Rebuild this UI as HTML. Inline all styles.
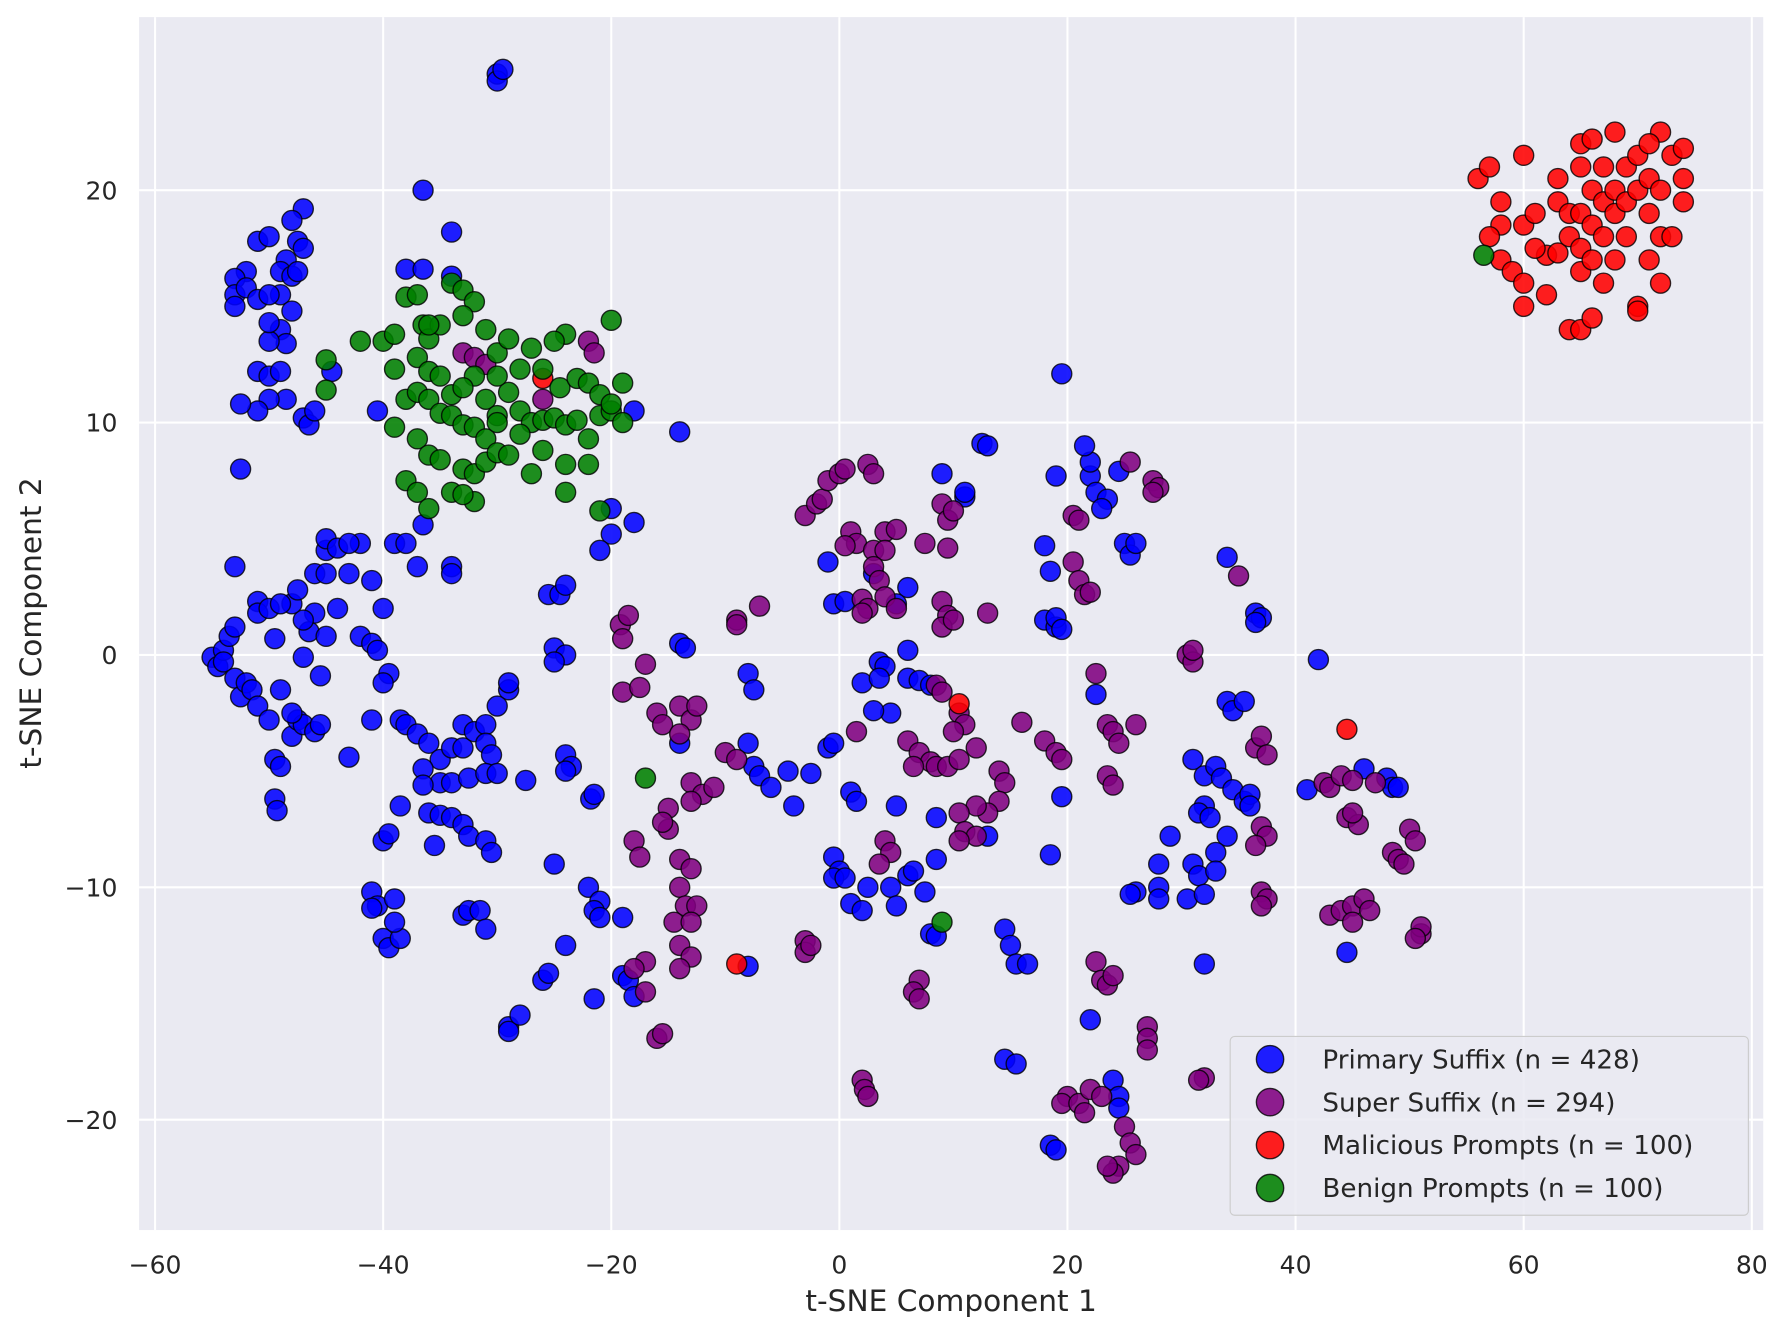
<!DOCTYPE html>
<html><head><meta charset="utf-8"><style>
html,body{margin:0;padding:0;background:#fff;}
svg{display:block;font-family:"DejaVu Sans","Liberation Sans",sans-serif;}
</style></head><body>
<svg id="chart" width="1777" height="1328" viewBox="0 0 1560 1166" xmlns="http://www.w3.org/2000/svg">
<rect x="122" y="15" width="1426" height="1065" fill="#eaeaf2"/>
<g id="grid"></g>
<g id="pts"></g>
<g id="axes"></g>
<text x="835" y="1151" font-size="26" fill="#262626" text-anchor="middle">t-SNE Component 1</text>
<text transform="translate(36,547) rotate(-90)" font-size="26" fill="#262626" text-anchor="middle">t-SNE Component 2</text>
<g id="legend"></g>
</svg>
<script>
const xTicks=[-60,-40,-20,0,20,40,60,80];
const yTicks=[-20,-10,0,10,20];
const seriesNames=["Primary Suffix (n = 428)","Super Suffix (n = 294)","Malicious Prompts (n = 100)","Benign Prompts (n = 100)"];
const primaryX=[-47,-48,-47.5,-47,-48.5,-49,-48,-47.5,-49,-48,-49,-48.5,-50,-51,-50,-52,-53,-53,-52,-51,-50,-50,-53,-51,-50,-49,-48.5,-50,-51,-52.5,-47,-46.5,-46,-44.5,-52.5,-40.5,-36.5,-30,-30,-29.5,-34,-38,-36.5,-34,-14,-18,-20,-18,-20,-21,-25.5,-24.5,-24,-25,-24,-25,-55,-54.5,-54,-54,-53.5,-53,-53,-52.5,-52,-51.5,-51,-53,-51,-51,-50,-49.5,-49,-50,-49.5,-49,-49.5,-49.3,-48,-47.5,-47,-48,-47,-46.5,-46,-47,-48,-47.5,-49,-46,-45,-45,-45,-44,-43,-42,-43,-44,-41,-42,-41,-40.5,-40,-45,-45.5,-46,-45.5,-43,-41,-39.5,-37,-39,-38,-34,-34,-36.5,-40,-38.5,-38,-37,-36,-35,-34,-33,-33,-32,-31,-31,-30.5,-36.5,-35,-36.5,-34,-32.5,-31,-30,-29,-29,-30,-27.5,-24,-23.5,-24,-36,-35,-35.5,-34,-33,-32.5,-31,-30.5,-40,-39.5,-38.5,-41,-40.5,-41,-39,-40,-39.5,-38.5,-39,-33,-32.5,-31.5,-31,-29,-29,-28,-26,-25.5,-25,-24,-22,-21,-21.5,-21,-21.5,-21.8,-21.5,-19,-18.5,-18,-19,-14,-13.5,-14,-8,-7.5,-8,-7.5,-7,-6,-4.5,-4,-2.5,-1,-0.5,-8,-1,-0.5,0.5,3,6,5,2,3.5,4,3.5,4.5,3,6,6,7,8,1,1.5,-0.5,0,-0.5,0.5,1,2,2.5,4.5,6,6.5,5,7.5,8.5,8.5,8,8.5,5,9,11,11,12.5,13,19.5,19,18,18.5,18,19,19,19.5,18.5,19.5,13,14.5,15,15.5,16.5,14.5,15.5,18.5,19,22,24,24.5,24.5,22,22,21.5,22.5,23.5,23,24.5,22.5,25,25.5,26,26,25.5,28,28,28,29,31,32,33,32,31.5,32.5,33.5,34.5,35.5,36,36,34,33,31,31.5,33,30.5,32,32,34,34,34.5,35.5,36.5,37,36.5,41,42,44.5,46,48,48.5,49];
const primaryY=[19.2,18.7,17.8,17.5,17,16.5,16.3,16.5,15.5,14.8,14,13.4,13.5,17.8,18,16.5,16.2,15.5,15.8,15.3,15.5,14.3,15,12.2,12,12.2,11,11,10.5,10.8,10.2,9.9,10.5,12.2,8,10.5,20,25,24.7,25.2,18.2,16.6,16.6,16.3,9.6,10.5,6.3,5.7,5.2,4.5,2.6,2.6,3,0.3,0,-0.3,-0.1,-0.5,0.2,-0.3,0.8,1.2,-1,-1.8,-1.2,-1.5,-2.2,3.8,2.3,1.8,2,0.7,-1.5,-2.8,-4.5,-4.8,-6.2,-6.7,-3.5,-2.8,-3,-2.5,-0.1,1,1.8,1.5,2.2,2.8,2.2,3.5,3.5,4.5,5,4.6,3.5,4.8,4.8,2,3.2,0.8,0.5,0.2,2,0.8,-0.9,-3.3,-3,-4.4,-2.8,-0.8,3.8,4.8,4.8,3.8,3.5,5.6,-1.2,-2.8,-3,-3.4,-3.8,-4.5,-4,-3,-4,-3.3,-3,-3.8,-4.3,-4.9,-5.5,-5.6,-5.5,-5.3,-5.1,-5.1,-1.5,-1.2,-2.2,-5.4,-4.3,-4.8,-5,-6.8,-6.9,-8.2,-7,-7.3,-7.8,-8,-8.5,-8,-7.7,-6.5,-10.2,-10.8,-10.9,-10.5,-12.2,-12.6,-12.2,-11.5,-11.2,-11,-11,-11.8,-16,-16.2,-15.5,-14,-13.7,-9,-12.5,-10,-10.6,-11,-11.3,-14.8,-6.2,-6,-13.8,-14,-14.7,-11.3,0.5,0.3,-3.8,-0.8,-1.5,-3.8,-4.8,-5.2,-5.7,-5,-6.5,-5.1,-4,-3.8,-13.4,4,2.2,2.3,3.5,2.9,2.2,-1.2,-0.3,-0.5,-1,-2.5,-2.4,0.2,-1,-1.1,-1.3,-5.9,-6.3,-8.7,-9.3,-9.6,-9.6,-10.7,-11,-10,-10,-9.5,-9.3,-10.8,-10.2,-8.8,-7,-12,-12.1,-6.5,7.8,6.8,7,9.1,9,12.1,7.7,4.7,3.6,1.5,1.2,1.6,1.1,-8.6,-6.1,-7.8,-11.8,-12.5,-13.3,-13.3,-17.4,-17.6,-21.1,-21.3,-15.7,-18.3,-19,-19.5,7.7,8.3,9,7,6.7,6.3,7.9,-1.7,4.8,4.3,4.8,-10.2,-10.3,-10,-10.5,-9,-7.8,-4.5,-5.2,-4.8,-6.5,-6.8,-7,-5.3,-5.8,-6.3,-6,-6.5,-7.8,-8.5,-9,-9.5,-9.3,-10.5,-10.3,-13.3,4.2,-2,-2.4,-2,1.8,1.6,1.4,-5.8,-0.2,-12.8,-4.9,-5.3,-5.7,-5.7];
const superX=[-33,-32,-22,-21.5,-26,-31,-19.2,-18.5,-19,-19,-17.5,-17,-16,-15.5,-14,-13,-12.5,-14,-13,-12,-13,-11,-15,-15,-15.5,-18,-17.5,-14,-13,-14,-13.5,-12.5,-14.5,-14,-13,-14,-17,-18,-17,-16,-15.5,-13,-9,-7,-9,-10,-9,-3,-3,-2.5,-3,-2,-1.5,-1,0,0.5,2.5,3,1,1.5,0.5,3,4,5,4,3,3.5,4,5,2,2.5,2,1.5,7.5,9,9.5,10,9.5,9,9.5,9,10,13,8.5,9,10.5,11,10,6,7,8,8.5,9.5,10.5,6.5,12,14,14.5,14,13,12,10.5,11,12,10.5,4,4.5,3.5,7,6.5,7,2,2.2,2.5,16,18,19,19.5,20.5,21,20.5,21,21.5,22,25.5,27.5,28,27.5,22.5,23.5,24,24.5,26,23.5,24,22.5,23,23.5,24,27,27,27,25,25.5,26,24.5,24,23.5,20,19.5,21,22,23,21.5,30.5,31,31,35,36.5,37,37.5,37,37.5,36.5,37,37.5,37,42.5,43,44,45,44.5,45.5,45,43,44,45,45,46,46.5,47,48.5,49,49.5,50,50.5,51,51,50.5,32,31.5];
const superY=[13,12.8,13.5,13,11,12.5,1.3,1.7,0.7,-1.6,-1.4,-0.4,-2.5,-3,-2.2,-2.8,-2.2,-3.4,-5.5,-6,-6.3,-5.7,-6.6,-7.5,-7.2,-8,-8.7,-8.8,-9.2,-10,-10.8,-10.8,-11.5,-12.5,-13,-13.5,-13.2,-13.5,-14.5,-16.5,-16.3,-11.5,1.5,2.1,1.3,-4.2,-4.5,-12.3,-12.8,-12.5,6,6.5,6.7,7.5,7.8,8,8.2,7.8,5.3,4.8,4.7,4.5,5.3,5.4,4.5,3.8,3.2,2.5,2,2.4,2,1.8,-3.3,4.8,6.5,5.8,6.2,4.6,2.3,1.7,1.2,1.5,1.8,-1.3,-1.6,-2.5,-3,-3.3,-3.7,-4.2,-4.6,-4.8,-4.8,-4.5,-4.8,-4,-5,-5.5,-6.3,-6.8,-6.5,-6.8,-7.6,-7.8,-8,-8,-8.5,-9,-14,-14.5,-14.8,-18.3,-18.7,-19,-2.9,-3.7,-4.2,-4.5,6,5.8,4,3.2,2.6,2.7,8.3,7.5,7.2,7,-0.8,-3,-3.3,-3.8,-3,-5.2,-5.6,-13.2,-14,-14.2,-13.8,-16,-16.5,-17,-20.3,-21,-21.5,-22,-22.3,-22,-19,-19.3,-19.3,-18.7,-19,-19.7,0,-0.3,0.2,3.4,-4,-3.5,-4.3,-7.4,-7.8,-8.2,-10.2,-10.5,-10.8,-5.5,-5.7,-5.2,-5.4,-7,-7.3,-6.8,-11.2,-11,-10.8,-11.5,-10.5,-11,-5.5,-8.5,-8.8,-9,-7.5,-8,-12,-11.7,-12.2,-18.2,-18.3];
const maliciousX=[56,57,58,57,58,59,60,60,60,61,62,62,61,63,63,63,64,64,64,65,65,65,65,65,65,66,66,66,66,67,67,67,67,68,68,68,68,69,69,69,70,70,70,71,71,71,72,72,72,72,73,73,74,74,74,60,66,70,71,58,-26,10.5,44.5,-9];
const maliciousY=[20.5,21,18.5,18,17,16.5,15,16,18.5,19,17.2,15.5,17.5,17.3,19.5,20.5,19,18,14,14,16.5,17.5,19,21,22,22.2,20,18.5,17,16,18,19.5,21,22.5,20,19,17,21,19.5,18,20,21.5,15,19,20.5,17,16,18,20,22.5,21.5,18,20.5,19.5,21.8,21.5,14.5,14.8,22,19.5,11.9,-2.1,-3.2,-13.3];
const benignX=[-45,-45,-42,-40,-39,-38,-37,-36.5,-36,-35,-34,-33,-32,-33,-31,-30,-29,-27,-24,-20,-39,-37,-36,-35,-34,-32,-31,-30,-29,-28,-26,-24.5,-23,-22,-21,-19,-38,-37,-36,-39,-37,-36,-35,-34,-33,-32,-31,-30,-28,-27,-26,-25,-24,-23,-22,-21,-20,-19,-20,-38,-37,-36,-34,-33,-32,-31,-30,-27,-26,-24,-22,-32,-33,-21,-24,-29,-35,-33,-28,-25,-36,56.5,-17,9,-30];
const benignY=[12.7,11.4,13.5,13.5,13.8,15.4,15.5,14.2,13.6,14.2,16,15.7,15.2,14.6,14,13,13.6,13.2,13.8,14.4,12.3,12.8,12.2,12,11.2,12,11,10.3,11.3,12.3,12.3,11.5,11.9,11.7,11.2,11.7,11,11.3,11,9.8,9.3,8.6,10.4,10.3,9.9,9.8,9.3,10,10.5,10,10.1,10.2,9.9,10.1,9.3,10.3,10.5,10,10.8,7.5,7,6.3,7,8,7.8,8.3,8.7,7.8,8.8,8.2,8.2,6.6,6.9,6.2,7,8.6,8.4,11.5,9.5,13.5,14.2,17.2,-5.3,-11.5,12];

const NS="http://www.w3.org/2000/svg";
const L=122,R=1548,T=15,B=1080;
const xMin=-61.4,xMax=81.0,yMin=-24.75,yMax=27.45;
function sx(v){return L+(v-xMin)/(xMax-xMin)*(R-L);}
function sy(v){return B-(v-yMin)/(yMax-yMin)*(B-T);}
function mk(tag,attrs,parent){const e=document.createElementNS(NS,tag);for(const k in attrs)e.setAttribute(k,attrs[k]);parent.appendChild(e);return e;}

const grid=document.getElementById('grid'),axes=document.getElementById('axes');
xTicks.forEach(t=>{
  const g=mk('line',{x1:sx(t),x2:sx(t),y1:T,y2:B,stroke:'#fff','stroke-width':1.8},grid);
  
  
  const tx=mk('text',{x:sx(t),y:1118,'font-size':22,fill:'#262626','text-anchor':'middle'},axes);
  
  
  tx.textContent=(t<0?'\u2212'+(-t):t);
});
yTicks.forEach(t=>{
  const g=mk('line',{x1:L,x2:R,y1:sy(t),y2:sy(t),stroke:'#fff','stroke-width':1.8},grid);
  
  
  const tx=mk('text',{x:103,y:sy(t)+8,'font-size':22,fill:'#262626','text-anchor':'end'},axes);
  
  
  tx.textContent=(t<0?'\u2212'+(-t):t);
});

const colors=['#0000ff','#800080','#ff0000','#008000'];
const series=[[primaryX,primaryY],[superX,superY],[maliciousX,maliciousY],[benignX,benignY]];
const pts=document.getElementById('pts');
const sNames=['primary-suffix-point','super-suffix-point','malicious-prompt-point','benign-prompt-point'];
series.forEach((s,i)=>{
  s[0].forEach((xv,j)=>{
    const c=mk('circle',{cx:sx(xv),cy:sy(s[1][j]),r:8.8,fill:colors[i],'fill-opacity':0.88,stroke:'#000','stroke-opacity':0.8,'stroke-width':1.2},pts);
    
    
  });
});

const lg=document.getElementById('legend');
const box=mk('rect',{x:1080,y:910,width:455,height:157,rx:4,fill:'#eaeaf2','fill-opacity':0.85,stroke:'#cccccc','stroke-width':1},lg);


seriesNames.forEach((n,i)=>{
  const y=930+i*37.7;
  const c=mk('circle',{cx:1115,cy:y,r:12,fill:colors[i],'fill-opacity':0.88,stroke:'#000','stroke-opacity':0.8,'stroke-width':1.2},lg);
  
  
  const t=mk('text',{x:1161,y:y+8,'font-size':23,fill:'#262626'},lg);
  
  
  t.textContent=n;
});
</script>
</body></html>
